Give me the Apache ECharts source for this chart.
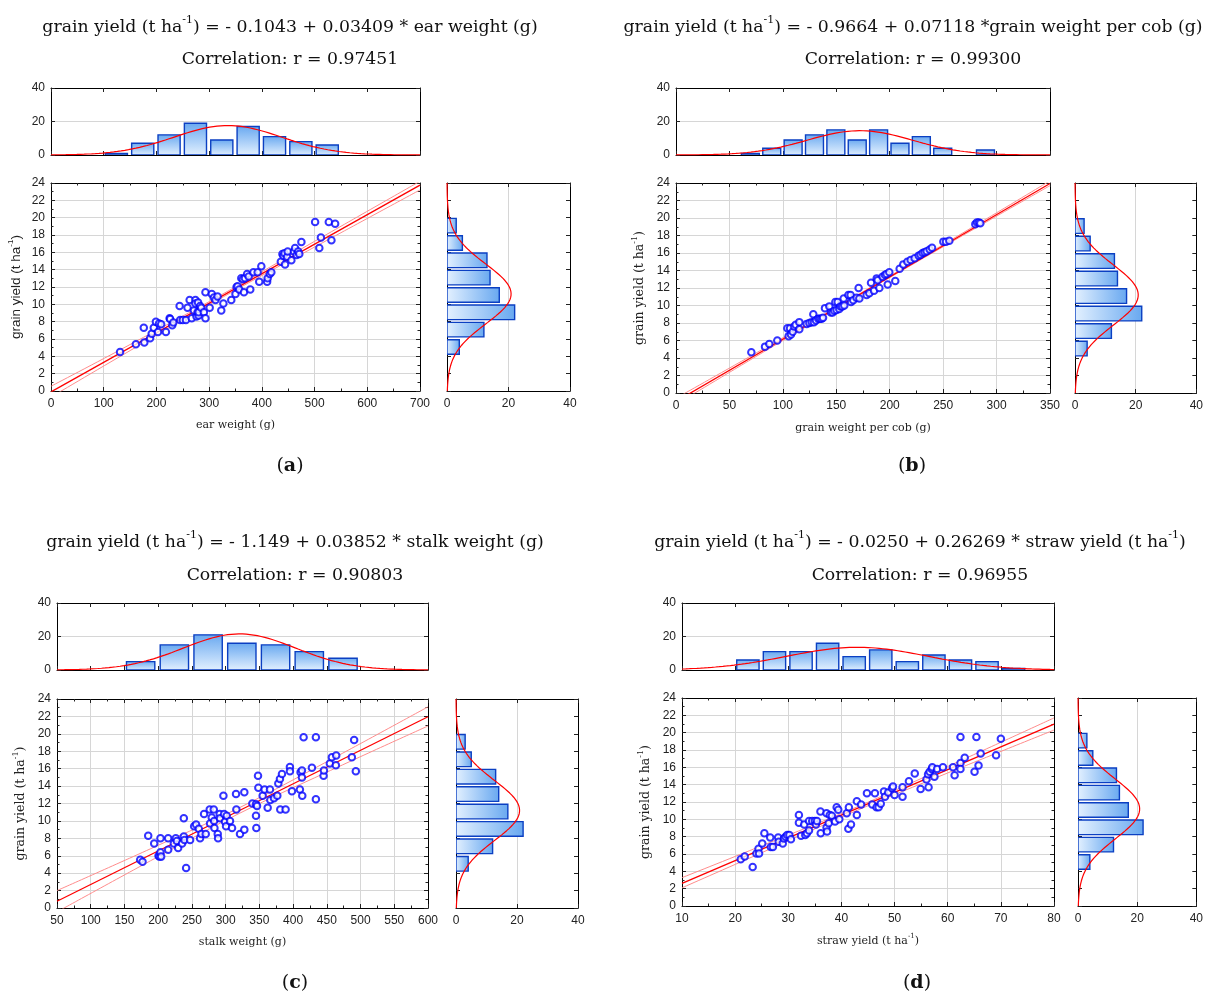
<!DOCTYPE html>
<html><head><meta charset="utf-8">
<script src="https://cdn.jsdelivr.net/npm/echarts@6.0.0/dist/echarts.min.js"></script>
<style>html,body{margin:0;padding:0;background:#fff}#c{width:1206px;height:994px}</style>
</head><body><div id="c"></div>
<script>
// ---------------- data ----------------
// grain yield histogram (shared by all panels), bins of 2 t/ha starting at 0
const yieldBinStart = 0, yieldBinWidth = 2;
const yieldCounts = [0, 0, 4, 12, 22, 17, 14, 13, 5, 3, 0, 0];

// (a) ear weight
const earBinStart = 100, earBinWidth = 50;
const earCounts = [1, 7, 12, 19, 9, 17, 11, 8, 6];
const earFit = [-0.1043, 0.03409];
const earX = [131,161,177,176,188,191,195,199,203,205,209,218,225,226,230,232,244,245,250,256,259,263,267,271,274,274,276,278,279,280,280,283,285,290,293,293,301,305,309,312,316,323,327,342,350,352,354,357,361,364,366,368,372,375,378,384,392,395,399,410,411,415,418,436,439,441,443,444,448,449,456,461,463,466,469,471,475,501,509,512,527,532,539];
const earY = [4.5,5.4,5.6,7.3,6.1,6.6,7.3,8.0,6.8,7.8,7.7,6.8,8.4,8.3,7.6,7.9,9.8,8.2,8.2,8.2,9.6,10.5,8.4,9.3,10.5,10.1,8.6,9.1,10.2,8.7,9.1,9.8,9.6,9.1,8.4,11.4,9.6,11.2,10.8,10.5,10.9,9.3,10.1,10.5,11.2,12.0,12.1,11.7,13.0,12.9,11.4,13.0,13.5,13.2,11.7,13.7,13.7,12.6,14.4,12.6,13.0,13.5,13.7,14.9,15.8,15.6,15.9,14.6,15.5,16.1,15.1,16.1,16.5,15.7,16.1,15.8,17.2,19.5,16.5,17.7,19.5,17.4,19.3];
const earUpper = [[0,0.55],[150,5.36],[330,11.33],[500,17.27],[700,24.2]];
const earLower = [[0,-0.7],[150,4.66],[330,10.97],[500,16.61],[700,23.2]];

// (b) grain weight per cob
const cobBinStart = 60, cobBinWidth = 20;
const cobCounts = [1, 4, 9, 12, 15, 9, 15, 7, 11, 4, 0, 3];
const cobFit = [-0.9664, 0.07118];
const cobX = [70.5,83.3,87.3,94.8,104.2,105.4,106.7,107.6,109.2,110.7,112,115.4,115.4,122.3,124.8,127,128.5,129.1,131,133.2,134.7,136.3,137.6,139.4,143.5,145,146.6,148.2,149.1,150.3,151.3,152.8,154,155.6,156.9,157.5,161.3,163.4,163.8,165.9,169,170.9,171.6,178.4,180.9,182.5,185.3,187.8,188.7,190.3,193.4,195.6,197.1,198.1,199.6,205.2,209.3,212.7,216.5,219.6,223.3,227.1,228.9,230.8,232.7,234.6,237.4,239.6,250.2,252.7,255.8,280.1,281.7,283.5,284.8];
const cobY = [4.65,5.3,5.6,6.0,7.4,6.5,7.4,6.7,7.0,7.6,7.8,8.1,7.3,7.9,8.0,8.1,9.0,8.1,8.3,8.5,8.5,8.5,8.6,9.7,9.9,9.2,9.2,9.4,10.4,9.5,10.4,9.6,9.9,9.9,10.8,10.0,11.2,11.2,10.4,10.6,10.9,12.0,10.8,11.2,11.4,12.6,11.7,13.1,12.9,12.0,13.3,13.5,13.6,12.4,13.8,12.8,14.2,14.7,15.0,15.2,15.4,15.7,15.8,16.0,16.1,16.2,16.4,16.6,17.3,17.3,17.4,19.3,19.5,19.5,19.4];
const cobUpper = [[0,-0.6],[175,11.57],[350,24.25]];
const cobLower = [[0,-1.3],[175,11.41],[350,23.7]];

// (c) stalk weight
const stalkBinStart = 150, stalkBinWidth = 50;
const stalkCounts = [5, 15, 21, 16, 15, 11, 7];
const stalkFit = [-1.149, 0.03852];
const stalkX = [173.3,176.8,185.2,194.1,200.5,202,203.4,203.4,204.4,214.8,214.8,223.2,226.1,227.6,229.6,235.5,238,238,239,241.4,247.3,253.3,256.2,260.2,262.1,264.1,268,270.5,276.4,276.9,279.4,282.4,282.9,283.4,288.3,288.8,291.2,291.7,296.7,297.7,299.1,300.6,301.6,306.5,309.5,315.4,315.9,321.3,327.7,327.7,339.6,345,345,345.5,346.5,348,348.5,354.9,357.8,362.3,365.7,366.2,371.7,376.6,378.1,380.5,381,383.5,388.9,395.3,395.3,398.3,410.1,411.1,413.1,413.1,413.6,415.6,427.9,433.8,433.8,445.2,445.7,454.5,457.5,463.4,463.9,487.1,490.5,493];
const stalkY = [5.55,5.3,8.3,7.4,6.0,5.9,6.4,8.0,5.9,8.0,6.7,7.4,8.0,7.7,6.9,7.4,10.3,8.2,7.8,4.6,7.8,9.4,9.6,9.1,8.0,8.5,10.8,8.5,11.3,9.7,10.4,11.3,10.0,9.2,8.5,8.0,10.8,10.3,12.9,10.8,9.9,9.4,10.6,10.0,9.2,13.1,11.3,8.5,9.0,13.3,12.0,11.9,10.6,9.2,11.7,15.2,13.8,12.9,13.6,11.5,13.6,12.4,12.6,12.9,14.3,14.8,11.3,15.4,11.3,16.2,15.7,13.4,13.6,15.6,15.8,15.0,12.9,19.6,16.1,19.6,12.5,15.2,15.8,16.6,17.3,16.4,17.5,17.3,19.3,15.7];
const stalkUpper = [[50,2.0],[200,7.2],[320,11.5],[450,16.8],[600,23.1]];
const stalkLower = [[50,-0.45],[200,5.9],[320,10.85],[450,15.6],[600,20.9]];

// (d) straw yield
const strawBinStart = 20, strawBinWidth = 5;
const strawCounts = [6, 11, 11, 16, 8, 12, 5, 9, 6, 5, 1];
const strawFit = [-0.0250, 0.26269];
const strawX = [21.05,21.8,23.3,24.0,24.4,24.5,25.1,25.5,26.6,26.7,27.1,28.1,28.2,28.96,29.2,29.5,29.8,30.2,30.5,32.0,32.0,32.4,33.0,33.2,33.5,33.9,33.9,34.5,35.0,35.2,35.4,36.05,36.1,37.2,37.2,37.3,37.6,37.8,38.2,38.8,39.1,39.4,39.6,41.0,41.3,41.4,41.8,42.9,42.9,43.7,44.8,45.8,46.3,46.6,47.0,47.4,48.0,48.2,48.8,49.5,49.7,50.0,51.5,51.5,52.7,53.8,54.9,56.0,56.3,56.4,56.6,57.0,57.1,57.5,58.0,59.1,61.0,61.3,62.4,62.4,62.4,63.2,65.05,65.4,65.8,66.2,69.1,70.0];
const strawY = [5.4,5.7,4.5,6.05,6.6,6.05,7.2,8.4,7.9,6.8,6.8,7.9,7.4,7.2,7.8,8.0,8.2,8.2,7.7,10.5,9.6,8.1,9.4,8.2,8.4,8.7,9.8,9.8,9.8,9.4,9.8,10.9,8.4,10.7,9.05,8.6,9.55,10.5,10.4,9.75,11.4,11.1,10.0,10.7,8.9,11.4,9.4,12.1,10.5,11.7,13.0,11.7,13.0,11.4,11.4,11.8,13.2,12.6,13.1,13.6,13.8,12.8,13.7,12.6,14.4,15.3,13.5,14.6,15.2,13.7,15.5,15.8,16.0,14.9,15.8,16.0,16.0,15.1,19.5,16.5,15.8,17.1,15.5,19.5,16.2,17.6,17.4,19.3];
const strawUpper = [[10,3.27],[25,6.95],[43,11.45],[60,16.1],[80,21.7]];
const strawLower = [[10,2.1],[25,6.15],[43,11.05],[60,15.35],[80,20.3]];

// axis tick ranges
const yieldAxis = {min: 0, max: 24, interval: 2};
const countAxis = {min: 0, max: 40, interval: 20};

// ---------------- layout / style ----------------
const SANS = 'Liberation Sans, Arial, sans-serif';
const SERIF = 'DejaVu Serif, serif';
const TITLE_FS = 17.3;
const labelStyle = {fontFamily: SANS, fontSize: 12, color: '#222'};
const supRich = (fs, family) => ({
  n: {fontFamily: family, fontSize: fs, color: '#222', lineHeight: fs + 6},
  s: {fontFamily: family, fontSize: Math.round(fs * 0.62), color: '#222', verticalAlign: 'top', lineHeight: Math.round(fs * 0.62)}
});

const panels = [
  {sc:[51,183,369,208], th:[51,88,369,67], rh:[447,183,123,208], xMin:0, xMax:700, xInt:100,
   xs:earX, ys:earY, fit:earFit, up:earUpper, lo:earLower, bs:earBinStart, bw:earBinWidth, counts:earCounts,
   xName:'{n|ear weight (g)}', ySans:true, xGap:26, yGap:25,
   t1:'{n|grain yield (t ha}{s|-1}{n|) = - 0.1043 + 0.03409 * ear weight (g)}', t2:'Correlation: r = 0.97451',
   tx:290, ty1:28, ty2:60, lab:'a', lx:290, ly:466},
  {sc:[676,183,374,210], th:[676,88,374,67], rh:[1075,183,122,210], xMin:0, xMax:350, xInt:50,
   xs:cobX, ys:cobY, fit:cobFit, up:cobUpper, lo:cobLower, bs:cobBinStart, bw:cobBinWidth, counts:cobCounts,
   xName:'{n|grain weight per cob (g)}', ySans:false, xGap:27, yGap:27,
   t1:'{n|grain yield (t ha}{s|-1}{n|) = - 0.9664 + 0.07118 *grain weight per cob (g)}', t2:'Correlation: r = 0.99300',
   tx:913, ty1:28, ty2:60, lab:'b', lx:912, ly:466},
  {sc:[57,699,371,209], th:[57,603,371,67], rh:[456,699,122,209], xMin:50, xMax:600, xInt:50,
   xs:stalkX, ys:stalkY, fit:stalkFit, up:stalkUpper, lo:stalkLower, bs:stalkBinStart, bw:stalkBinWidth, counts:stalkCounts,
   xName:'{n|stalk weight (g)}', ySans:false, xGap:26, yGap:27,
   t1:'{n|grain yield (t ha}{s|-1}{n|) = - 1.149 + 0.03852 * stalk weight (g)}', t2:'Correlation: r = 0.90803',
   tx:295, ty1:543, ty2:576, lab:'c', lx:295, ly:983},
  {sc:[682,698,372,208], th:[682,603,372,67], rh:[1078,698,122,208], xMin:10, xMax:80, xInt:10,
   xs:strawX, ys:strawY, fit:strawFit, up:strawUpper, lo:strawLower, bs:strawBinStart, bw:strawBinWidth, counts:strawCounts,
   xName:'{n|straw yield (t ha}{s|-1}{n|)}', ySans:false, xGap:27, yGap:27,
   t1:'{n|grain yield (t ha}{s|-1}{n|) = - 0.0250 + 0.26269 * straw yield (t ha}{s|-1}{n|)}', t2:'Correlation: r = 0.96955',
   tx:920, ty1:543, ty2:576, lab:'d', lx:917, ly:983}
];

function normalCurve(start, width, counts, lo, hi, swap) {
  const n = counts.reduce((a, b) => a + b, 0);
  let m = 0; counts.forEach((c, i) => m += c * (start + (i + 0.5) * width)); m /= n;
  let v = 0; counts.forEach((c, i) => { const d = start + (i + 0.5) * width - m; v += c * d * d; }); v /= (n - 1);
  const sd = Math.sqrt(v), pts = [];
  for (let k = 0; k <= 200; k++) {
    const x = lo + (hi - lo) * k / 200;
    const f = n * width * Math.exp(-0.5 * Math.pow((x - m) / sd, 2)) / (sd * Math.sqrt(2 * Math.PI));
    pts.push(swap ? [f, x] : [x, f]);
  }
  return pts;
}

const grids = [], xAxes = [], yAxes = [], series = [], graphics = [];
const tick = {show: true, inside: true, length: 4, lineStyle: {color: '#222', width: 1}};
const minor = {show: true, splitNumber: 2, length: 2.5, lineStyle: {color: '#222', width: 1}};
const line = {show: true, onZero: false, lineStyle: {color: '#000', width: 1}};
const split = {show: true, lineStyle: {color: '#d6d6d6', width: 1}};

function ax(o) {
  return Object.assign({type: 'value', axisLine: line, axisTick: tick, splitLine: {show: false},
    axisLabel: {show: false}}, o);
}

panels.forEach((P, i) => {
  const g = 3 * i, a = 6 * i;
  [P.sc, P.th, P.rh].forEach(r => grids.push({left: r[0], top: r[1], width: r[2], height: r[3], containLabel: false}));
  const xr = {min: P.xMin, max: P.xMax, interval: P.xInt};
  const nameRich = supRich(11, SERIF);
  // x axes
  xAxes.push(ax(Object.assign({gridIndex: g, position: 'bottom', minorTick: minor, splitLine: split,
    axisLabel: Object.assign({show: true, margin: 7}, labelStyle),
    name: P.xName, nameLocation: 'middle', nameGap: P.xGap, nameTextStyle: {rich: nameRich}}, xr)));
  xAxes.push(ax(Object.assign({gridIndex: g, position: 'top', minorTick: minor}, xr)));
  xAxes.push(ax(Object.assign({gridIndex: g + 1, position: 'bottom'}, xr)));
  xAxes.push(ax(Object.assign({gridIndex: g + 1, position: 'top'}, xr)));
  xAxes.push(ax(Object.assign({gridIndex: g + 2, position: 'bottom', splitLine: split,
    axisLabel: Object.assign({show: true, margin: 7}, labelStyle)}, countAxis)));
  xAxes.push(ax(Object.assign({gridIndex: g + 2, position: 'top'}, countAxis)));
  // y axes
  const yRich = P.ySans ? supRich(13.5, SANS) : supRich(12.5, SERIF);
  yAxes.push(ax(Object.assign({gridIndex: g, position: 'left', minorTick: minor, splitLine: split,
    axisLabel: Object.assign({show: true, margin: 6}, labelStyle),
    name: '{n|grain yield (t ha}{s|-1}{n|)}', nameLocation: 'middle', nameGap: P.yGap,
    nameTextStyle: {rich: yRich}}, yieldAxis)));
  yAxes.push(ax(Object.assign({gridIndex: g, position: 'right', minorTick: minor}, yieldAxis)));
  yAxes.push(ax(Object.assign({gridIndex: g + 1, position: 'left', splitLine: split,
    axisLabel: Object.assign({show: true, margin: 6}, labelStyle)}, countAxis)));
  yAxes.push(ax(Object.assign({gridIndex: g + 1, position: 'right'}, countAxis)));
  yAxes.push(ax(Object.assign({gridIndex: g + 2, position: 'left'}, yieldAxis)));
  yAxes.push(ax(Object.assign({gridIndex: g + 2, position: 'right'}, yieldAxis)));

  // regression bands and line
  [P.up, P.lo].forEach(b => series.push({type: 'line', xAxisIndex: a, yAxisIndex: a, data: b, smooth: 0.4,
    symbol: 'none', clip: true, silent: true, lineStyle: {color: '#ff8c8c', width: 1}, z: 3}));
  series.push({type: 'line', xAxisIndex: a, yAxisIndex: a, symbol: 'none', clip: true, silent: true,
    data: [[P.xMin, P.fit[0] + P.fit[1] * P.xMin], [P.xMax, P.fit[0] + P.fit[1] * P.xMax]],
    lineStyle: {color: '#ff0000', width: 1.3}, z: 4});
  // scatter
  series.push({type: 'scatter', xAxisIndex: a, yAxisIndex: a, data: P.xs.map((x, k) => [x, P.ys[k]]),
    symbol: 'emptyCircle', symbolSize: 6.5, silent: true,
    itemStyle: {color: '#0000ff', borderColor: '#0000ff', borderWidth: 2}, z: 6});

  // top histogram
  const bw = P.bw;
  series.push({type: 'custom', xAxisIndex: a + 2, yAxisIndex: a + 2, clip: true, silent: true,
    encode: {x: [0, 1], y: 2},
    data: P.counts.map((c, k) => [P.bs + k * bw, P.bs + (k + 1) * bw, c]),
    renderItem: (params, api) => {
      if (!api.value(2)) return null;
      const p0 = api.coord([api.value(0) + 0.06 * bw, api.value(2)]);
      const p1 = api.coord([api.value(1) - 0.1 * bw, 0]);
      return {type: 'rect', shape: {x: p0[0], y: p0[1], width: p1[0] - p0[0], height: p1[1] - p0[1]},
        style: {fill: new echarts.graphic.LinearGradient(0, 0, 0, 1, [{offset: 0, color: '#68a8f0'}, {offset: 1, color: '#e4f1ff'}]),
          stroke: '#0b3fc2', lineWidth: 1.4}};
    }, z: 3});
  series.push({type: 'line', xAxisIndex: a + 2, yAxisIndex: a + 2, symbol: 'none', clip: true, silent: true,
    data: normalCurve(P.bs, bw, P.counts, P.xMin, P.xMax, false), lineStyle: {color: '#ff0000', width: 1.2}, z: 5});

  // right histogram
  const yw = yieldBinWidth;
  series.push({type: 'custom', xAxisIndex: a + 4, yAxisIndex: a + 4, clip: true, silent: true,
    encode: {x: 2, y: [0, 1]},
    data: yieldCounts.map((c, k) => [yieldBinStart + k * yw, yieldBinStart + (k + 1) * yw, c]),
    renderItem: (params, api) => {
      if (!api.value(2)) return null;
      const p0 = api.coord([0, api.value(1) - 0.04 * yw]);
      const p1 = api.coord([api.value(2), api.value(0) + 0.12 * yw]);
      return {type: 'rect', shape: {x: p0[0], y: p0[1], width: p1[0] - p0[0], height: p1[1] - p0[1]},
        style: {fill: new echarts.graphic.LinearGradient(0, 0, 1, 0, [{offset: 0, color: '#e4f1ff'}, {offset: 1, color: '#68a8f0'}]),
          stroke: '#0b3fc2', lineWidth: 1.4}};
    }, z: 3});
  series.push({type: 'line', xAxisIndex: a + 4, yAxisIndex: a + 4, symbol: 'none', clip: true, silent: true,
    data: normalCurve(yieldBinStart, yw, yieldCounts, yieldAxis.min, yieldAxis.max, true),
    lineStyle: {color: '#ff0000', width: 1.2}, z: 5});

  // titles and panel label
  graphics.push({type: 'text', x: P.tx, y: P.ty1, silent: true,
    style: {text: P.t1, textAlign: 'center', textVerticalAlign: 'middle', rich: {
      n: {fontFamily: SERIF, fontSize: TITLE_FS, fill: '#111', lineHeight: 26},
      s: {fontFamily: SERIF, fontSize: 11, fill: '#111', verticalAlign: 'top', lineHeight: 11}}}});
  graphics.push({type: 'text', x: P.tx, y: P.ty2, silent: true,
    style: {text: P.t2, textAlign: 'center', textVerticalAlign: 'middle', font: TITLE_FS + 'px ' + SERIF, fill: '#111'}});
  graphics.push({type: 'text', x: P.lx, y: P.ly, silent: true,
    style: {text: '{n|(}{b|' + P.lab + '}{n|)}', textAlign: 'center', textVerticalAlign: 'middle', rich: {
      n: {fontFamily: SERIF, fontSize: 19, fill: '#111'},
      b: {fontFamily: SERIF, fontSize: 19, fontWeight: 'bold', fill: '#111'}}}});
});

const chart = echarts.init(document.getElementById('c'), null, {renderer: 'canvas'});
chart.setOption({animation: false, backgroundColor: '#fff', grid: grids, xAxis: xAxes, yAxis: yAxes,
  series: series, graphic: graphics});
</script></body></html>
